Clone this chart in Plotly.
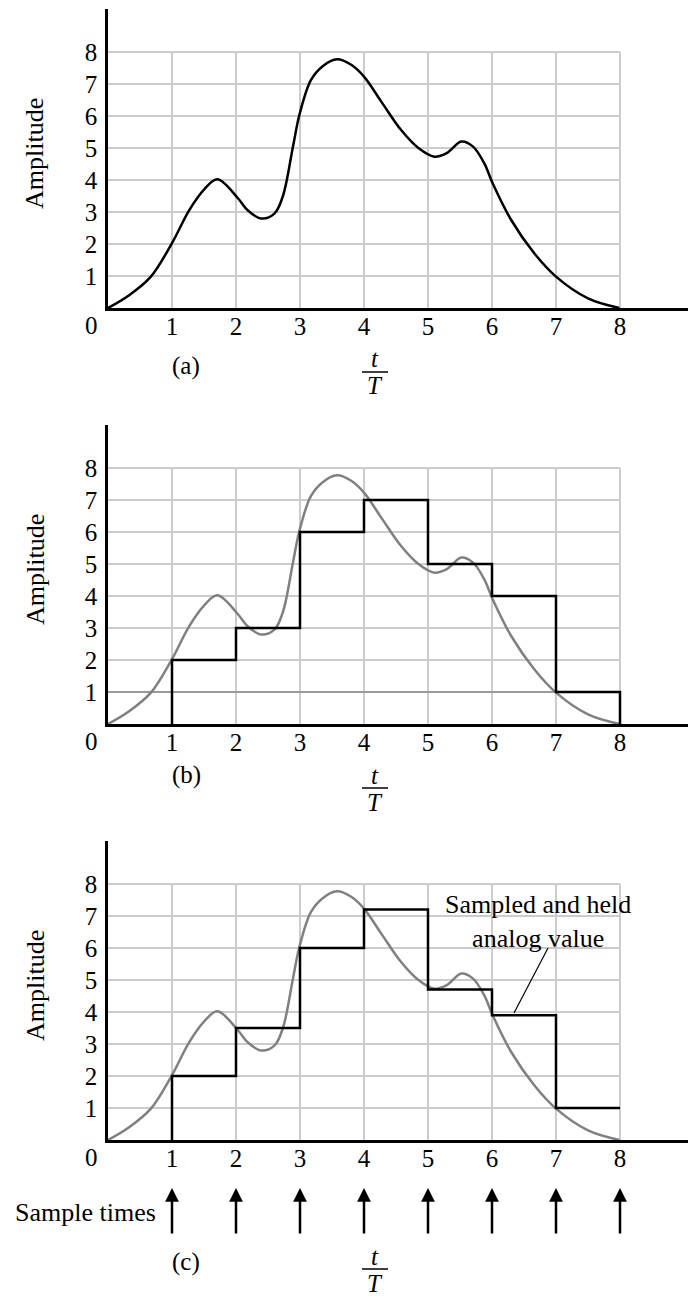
import plotly.graph_objects as go

# ---------------- data ----------------
t_curve = [0, 0.33, 0.67, 1.0, 1.27, 1.5, 1.71, 2.03, 2.18, 2.39, 2.6, 2.73, 2.89, 2.99,
           3.17, 3.35, 3.58, 3.8, 4.0, 4.27, 4.58, 4.85, 5.1, 5.3, 5.52, 5.7, 5.88,
           6.01, 6.3, 6.66, 7.0, 7.5, 7.99]
v_curve = [0, 0.4, 0.98, 2.03, 3.06, 3.7, 4.02, 3.43, 3.06, 2.80, 2.95, 3.48, 5.04, 6.03,
           7.12, 7.55, 7.77, 7.6, 7.23, 6.45, 5.56, 5.0, 4.73, 4.85, 5.2, 5.05, 4.52,
           3.9, 2.75, 1.71, 0.98, 0.3, 0]
sample_times = [1, 2, 3, 4, 5, 6, 7, 8]
held_b = [2, 3, 6, 7, 5, 4, 1]          # sample-and-hold (quantized)
held_c = [2, 3.5, 6, 7.2, 4.7, 3.9, 1]  # sampled and held analog value
grid_ticks = [1, 2, 3, 4, 5, 6, 7, 8]
tick_labels = ["1", "2", "3", "4", "5", "6", "7", "8"]
panel_labels = ["(a)", "(b)", "(c)"]

# ---------------- geometry (page pixels) ----------------
PAGE_W, PAGE_H = 696, 1296
OFF = 8                       # body margin of the html page
W, H = PAGE_W - OFF, PAGE_H - OFF
X0, UX, UY = 108, 64, 32
TOPSPAN = 299
bases = [308, 724, 1140]
FONT = "Liberation Serif"
FS = 25
FS_FRAC = 25

def py(p):
    return 1 - (p - OFF) / H

def px(p):
    return (p - OFF) / W

def txt(x, y, text, size=FS, **kw):
    d = dict(x=px(x), y=py(y), xref="paper", yref="paper", text=text, showarrow=False,
             xanchor="center", yanchor="middle",
             font=dict(family=FONT, size=size, color="black"))
    d.update(kw)
    return d

fig = go.Figure()
layout = {}
annotations = []
shapes = []

xr = [0, (PAGE_W - X0) / UX]
yr = [0, TOPSPAN / UY]
gmax = max(grid_ticks)

for i, base in enumerate(bases):
    n = "" if i == 0 else str(i + 1)
    xa, ya = "x" + n, "y" + n
    layout["xaxis" + n] = dict(domain=[px(X0), 1], range=xr, anchor=ya,
                               showgrid=False, zeroline=False, showline=True,
                               linecolor="black", linewidth=2.5,
                               tickvals=grid_ticks, ticktext=tick_labels, ticks="",
                               ticklabelstandoff=-6,
                               tickfont=dict(family=FONT, size=FS, color="black"),
                               fixedrange=True)
    layout["yaxis" + n] = dict(domain=[py(base), py(base - TOPSPAN)], range=yr, anchor=xa,
                               showgrid=False, zeroline=False, showline=True,
                               linecolor="black", linewidth=2.5,
                               tickvals=grid_ticks, ticktext=tick_labels, ticks="",
                               ticklabelstandoff=3,
                               tickfont=dict(family=FONT, size=FS, color="black"),
                               fixedrange=True)
    # grid
    gx, gy = [], []
    for k in grid_ticks:
        gx += [k, k, None]
        gy += [0, gmax, None]
    for k in grid_ticks:
        gx += [0, gmax, None]
        gy += [k, k, None]
    fig.add_trace(go.Scatter(x=gx, y=gy, xaxis=xa, yaxis=ya, mode="lines",
                             line=dict(color="#cccccc", width=2), hoverinfo="skip",
                             showlegend=False))
    if i == 1:
        fig.add_trace(go.Scatter(x=[0, gmax], y=[1, 1], xaxis=xa, yaxis=ya, mode="lines",
                                 line=dict(color="#9a9a9a", width=2), hoverinfo="skip",
                                 showlegend=False))
    # analog curve
    fig.add_trace(go.Scatter(x=t_curve, y=v_curve, xaxis=xa, yaxis=ya, mode="lines",
                             line=dict(color="black" if i == 0 else "#808080", width=2.5,
                                       shape="spline", smoothing=1.0),
                             showlegend=False))
    # held steps
    if i > 0:
        held = held_b if i == 1 else held_c
        sx = [sample_times[0]] + sample_times[:len(held)] + [sample_times[-1]]
        sy = [0] + held + [held[-1]]
        if i == 1:
            sx = sx + [sample_times[-1]]
            sy = sy + [0]
        fig.add_trace(go.Scatter(x=sx, y=sy, xaxis=xa, yaxis=ya, mode="lines",
                                 line=dict(color="black", width=2.5, shape="hv"),
                                 showlegend=False))
    # "0" corner label and axis title
    annotations.append(txt(91, base + 17, "0"))
    annotations.append(txt(35, base - 154, "Amplitude", size=26, textangle=-90))

# panel labels and t/T
lab_y = [366, 775, 1262]
frac_line = [372, 788, 1269]
for i in range(3):
    annotations.append(txt(186, lab_y[i], panel_labels[i]))
    fl = frac_line[i]
    annotations.append(txt(375, fl - 13, "<i>t</i>", size=FS_FRAC))
    annotations.append(txt(375, fl + 14, "<i>T</i>", size=FS_FRAC))
    shapes.append(dict(type="line", xref="paper", yref="paper",
                       x0=px(362), x1=px(388), y0=py(fl), y1=py(fl),
                       line=dict(color="black", width=1.5)))

# sample time arrows (panel c)
for s in sample_times:
    annotations.append(dict(x=s, y=py(1188), xref="x3", yref="paper", text="",
                            showarrow=True, ax=0, ay=47, arrowhead=2, arrowsize=1.1,
                            arrowwidth=2.5, arrowcolor="black"))
annotations.append(txt(158, 1212, "Sample times", size=26, xanchor="right"))

# callout in panel c
annotations.append(txt(538, 921, "Sampled and held<br>analog value", size=26))
shapes.append(dict(type="line", xref="paper", yref="paper",
                   x0=px(548), y0=py(948), x1=px(514), y1=py(1013),
                   line=dict(color="black", width=1.2)))

fig.update_layout(width=W, height=H, margin=dict(l=0, r=0, t=0, b=0),
                  paper_bgcolor="white", plot_bgcolor="white",
                  annotations=annotations, shapes=shapes, **layout)
fig.write_html("out.html")
